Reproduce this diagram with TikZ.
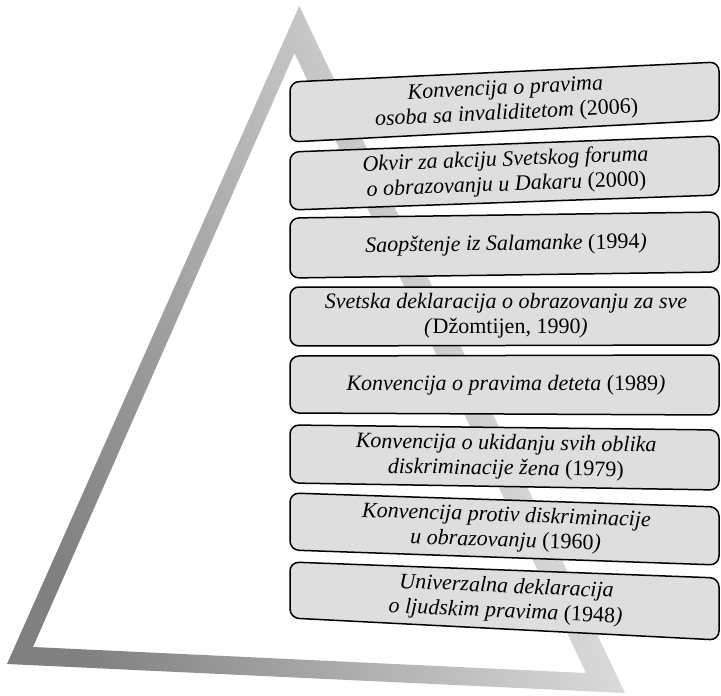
\documentclass[tikz,border=0pt]{standalone}
\usepackage{fontspec}
\setmainfont{Liberation Serif}
\definecolor{tridark}{gray}{0.50}
\definecolor{trilight}{gray}{0.94}
\definecolor{boxgray}{HTML}{DEDEDE}
\begin{document}
\begin{tikzpicture}[x=1pt,y=-1pt,
  boxshape/.style={draw=black,line width=1.5pt,fill=boxgray,rounded corners=9pt},
  boxtext/.style={font=\itshape\fontsize{22}{25}\selectfont,align=center,inner sep=0pt}]
\useasboundingbox (0,0) rectangle (721,696);
% triangle band
\shade[even odd rule,left color=tridark,right color=trilight,shading angle=107]
  (299.3,6) -- (7,664) -- (625,693) -- cycle
  (294.5,53) -- (33,647) -- (586,673) -- cycle;
% boxes
\draw[boxshape] (290,82) -- (719,62) -- (719,120) -- (290,142) -- cycle;
\draw[boxshape] (290,152) -- (719,136) -- (719,195) -- (290,210) -- cycle;
\draw[boxshape] (290,218) -- (719,212) -- (719,272) -- (290,278) -- cycle;
\draw[boxshape] (290,287) -- (719,287) -- (719,345) -- (290,346) -- cycle;
\draw[boxshape] (290,356) -- (719,355) -- (719,415) -- (290,413) -- cycle;
\draw[boxshape] (290,425) -- (719,430) -- (719,490) -- (290,483) -- cycle;
\draw[boxshape] (290,493) -- (719,507) -- (719,565) -- (290,550) -- cycle;
\draw[boxshape] (290,562) -- (719,578) -- (719,640) -- (290,618) -- cycle;
% texts
\node[boxtext,rotate=2.8] (t1) at (506,102) {Konvencija o pravima\\osoba sa invaliditetom \textup{(2006)}};
\node[boxtext,rotate=2.1] (t2) at (506,173) {Okvir za akciju Svetskog foruma\\o obrazovanju u Dakaru \textup{(2000)}};
\node[boxtext,rotate=0.8] (t3) at (506,245) {Saopštenje iz Salamanke \textup{(1994}{)}};
\node[boxtext] (t4) at (506,316) {Svetska deklaracija o obrazovanju za sve\\(\textup{Džomtijen, 1990})};
\node[boxtext] (t5) at (506,385) {Konvencija o pravima deteta \textup{(1989}{)}};
\node[boxtext,rotate=-0.8] (t6) at (506,457) {Konvencija o ukidanju svih oblika\\diskriminacije žena \textup{(1979)}};
\node[boxtext,rotate=-1.9] (t7) at (506,529) {Konvencija protiv diskriminacije\\u obrazovanju \textup{(1960}{)}};
\node[boxtext,rotate=-2.5] (t8) at (506,600) {Univerzalna deklaracija\\o ljudskim pravima \textup{(1948}{)}};
\end{tikzpicture}
\end{document}
